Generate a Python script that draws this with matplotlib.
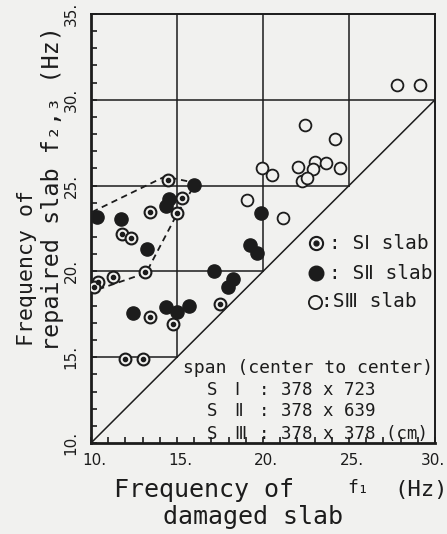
"""Frequency of repaired slab against frequency of damaged slab."""

import matplotlib

matplotlib.use("Agg")
import matplotlib.pyplot as plt
from matplotlib.transforms import ScaledTranslation

INK = "#1c1c1c"
PAPER = "#f1f1ef"
FONT = ["DejaVu Sans Mono", "DejaVu Sans"]

# S I slab (circle with dot)
s1_f1 = [14.49, 15.27, 14.98, 13.43, 11.80, 12.35, 13.14, 11.30, 10.38, 10.18,
         13.43, 14.79, 11.98, 13.04, 17.50]
s1_f23 = [25.33, 24.26, 23.39, 23.48, 22.20, 21.95, 19.98, 19.69, 19.40, 19.10,
          17.36, 16.93, 14.88, 14.88, 18.10]

# S II slab (filled)
s2_f1 = [15.99, 14.51, 14.36, 10.33, 11.74, 13.28, 12.46, 14.36, 14.98, 15.72,
         19.88, 19.24, 19.63, 17.17, 18.27, 17.95]
s2_f23 = [25.03, 24.19, 23.84, 23.19, 23.03, 21.29, 17.59, 17.94, 17.65, 17.98,
          23.42, 21.54, 21.05, 20.04, 19.56, 19.07]

# S III slab (open)
s3_f1 = [27.79, 29.13, 22.44, 24.19, 19.05, 21.14, 19.92, 20.51, 22.05, 23.02,
         23.69, 24.48, 22.92, 22.25, 22.58]
s3_f23 = [30.86, 30.86, 28.53, 27.72, 24.16, 23.09, 26.01, 25.62, 26.11, 26.37,
          26.29, 26.05, 25.97, 25.29, 25.43]

# dashed envelope around the S I / S II group
hull_f1 = [10.06, 14.30, 16.10, 15.00, 13.20, 10.06]
hull_f23 = [23.46, 25.53, 25.15, 23.34, 19.91, 18.83]

grid_levels = [15, 20, 25, 30]
x_ticks = [10, 15, 20, 25, 30]
y_ticks = [10, 15, 20, 25, 30, 35]

legend_rows = [(21.65, ": SⅠ slab"), (19.9, ": SⅡ slab"), (18.22, ":SⅢ slab")]
span_rows = [("S", "Ⅰ", "378 x 723"), ("S", "Ⅱ", "378 x 639"), ("S", "Ⅲ", "378 x 378 (cm)")]
span_y = [13.09, 11.86, 10.52]


def main() -> None:
    fig = plt.figure(figsize=(4.47, 5.34), dpi=100, facecolor=PAPER)
    ax = fig.add_axes([0.2036, 0.1704, 0.7696, 0.8034])
    ax.set_facecolor(PAPER)
    ax.set_xlim(10, 30)
    ax.set_ylim(10, 35)

    # upper-triangle grid and the 45 degree line
    for level in grid_levels:
        ax.plot([10, level], [level, level], color=INK, lw=1.1, zorder=1)
        ax.plot([level, level], [level, 35], color=INK, lw=1.1, zorder=1)
    ax.plot([10, 30], [10, 30], color=INK, lw=1.1, zorder=1)

    ax.plot(hull_f1, hull_f23, color=INK, lw=1.3, ls=(0, (3.5, 2.5)), zorder=2)

    ms = 8.5
    ax.plot(s3_f1, s3_f23, "o", ms=ms, mfc=PAPER, mec=INK, mew=1.3, ls="none", zorder=3)
    ax.plot(s2_f1, s2_f23, "o", ms=ms + 1, mfc=INK, mec=INK, ls="none", zorder=3)
    ax.plot(s1_f1, s1_f23, "o", ms=ms, mfc=PAPER, mec=INK, mew=1.5, ls="none", zorder=3)
    ax.plot(s1_f1, s1_f23, "o", ms=3, mfc=INK, mec=INK, ls="none", zorder=4)

    # legend drawn by hand like the original
    ax.plot([23.08], [21.65], "o", ms=ms + 1, mfc=PAPER, mec=INK, mew=1.5, zorder=4)
    ax.plot([23.08], [21.65], "o", ms=3.5, mfc=INK, mec=INK, zorder=4)
    ax.plot([23.08], [19.9], "o", ms=ms + 2, mfc=INK, mec=INK, zorder=4)
    ax.plot([23.02], [18.22], "o", ms=ms + 1, mfc=PAPER, mec=INK, mew=1.3, zorder=4)
    for (y, label), x in zip(legend_rows, [23.85, 23.85, 23.35]):
        ax.text(x, y, label, fontsize=14, family=FONT, color=INK, va="center")

    ax.text(15.35, 14.37, "span (center to center)", fontsize=13, family=FONT,
            color=INK, va="center")
    for (s, numeral, size), y in zip(span_rows, span_y):
        ax.text(16.75, y, s, fontsize=12.5, family=FONT, color=INK, va="center")
        ax.text(18.35, y, numeral, fontsize=12.5, family=FONT, color=INK, va="center")
        ax.text(19.75, y, ":", fontsize=12.5, family=FONT, color=INK, va="center")
        ax.text(21.05, y, size, fontsize=12.5, family=FONT, color=INK, va="center")

    for side in ["left", "bottom"]:
        ax.spines[side].set_linewidth(2.0)
    for side in ["top", "right"]:
        ax.spines[side].set_linewidth(1.4)
    for spine in ax.spines.values():
        spine.set_color(INK)

    ax.set_xticks(x_ticks, [f"{t}." for t in x_ticks])
    ax.set_yticks(y_ticks, [f"{t}." for t in y_ticks])
    ax.set_xticks(range(10, 31), minor=True)
    ax.set_yticks(range(10, 36), minor=True)
    ax.tick_params(which="both", direction="in", length=4, width=1.2, color=INK,
                   top=False, right=False)
    ax.tick_params(axis="x", labelsize=11, labelcolor=INK, pad=7)
    ax.tick_params(axis="y", labelsize=11, labelcolor=INK, pad=9)
    xlabels = ax.get_xticklabels()
    for i, lab in enumerate(xlabels):
        dx = 3 if i < len(xlabels) - 1 else -2
        lab.set_transform(lab.get_transform() + ScaledTranslation(dx / 100, 0, fig.dpi_scale_trans))
    for lab in ax.get_yticklabels():
        lab.set_rotation(90)
        lab.set_va("center")

    # axis titles
    fig.text(204 / 447, 1 - 490 / 534, "Frequency of", fontsize=18, family=FONT,
             color=INK, ha="center", va="center")
    fig.text(358 / 447, 1 - 488 / 534, "f₁", fontsize=13, family=FONT,
             color=INK, ha="center", va="center")
    fig.text(421 / 447, 1 - 490 / 534, "(Hz)", fontsize=16, family=FONT,
             color=INK, ha="center", va="center")
    fig.text(253 / 447, 1 - 517 / 534, "damaged slab", fontsize=18, family=FONT,
             color=INK, ha="center", va="center")
    fig.text(27 / 447, 1 - 268 / 534, "Frequency of", fontsize=15.5, family=FONT,
             color=INK, ha="center", va="center", rotation=90)
    fig.text(53 / 447, 1 - 189 / 534, "repaired slab f₂,₃ (Hz)", fontsize=16.8,
             family=FONT, color=INK, ha="center", va="center", rotation=90)

    fig.savefig("out.png", dpi=100, facecolor=PAPER)


if __name__ == "__main__":
    main()
